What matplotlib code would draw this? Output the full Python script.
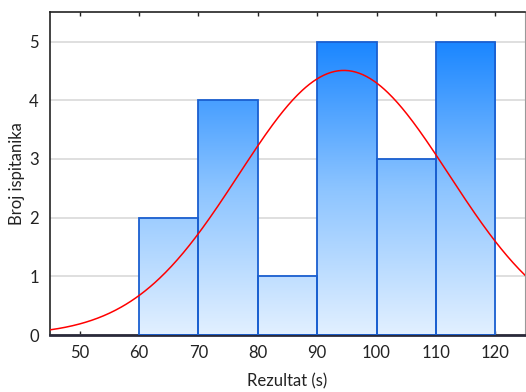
import numpy as np
import matplotlib
matplotlib.use('Agg')
import matplotlib.pyplot as plt
from matplotlib.colors import LinearSegmentedColormap

# histogram data
bin_edges = [60, 70, 80, 90, 100, 110, 120]
counts = [2, 4, 1, 5, 3, 5]
n_total = 20
mu = 94.5
sigma = 17.7
x_ticks = [50, 60, 70, 80, 90, 100, 110, 120]
y_ticks = [0, 1, 2, 3, 4, 5]

plt.rcParams['font.family'] = ['Lato', 'DejaVu Sans']

fig = plt.figure(figsize=(5.26, 3.92), dpi=100)
ax = fig.add_axes([0.095, 0.145, 0.903, 0.824])

ax.set_xlim(45, 125)
ax.set_ylim(0, 5.5)
ax.yaxis.grid(True, color='#d9d9d9', linewidth=1.2, zorder=0)
ax.set_axisbelow(True)

# bars with a vertical gradient (light at bottom, strong blue at top)
cmap = LinearSegmentedColormap.from_list('bluegrad', ['#e2f0ff', '#8cc4ff', '#1a86ff'])
grad = np.linspace(0, 1, 256).reshape(-1, 1)
widths = np.diff(bin_edges)
bars = ax.bar(bin_edges[:-1], counts, width=widths, align='edge',
              facecolor='none', edgecolor='#1a5fd0', linewidth=1.3, zorder=3)
for b in bars:
    im = ax.imshow(grad, cmap=cmap, origin='lower', aspect='auto',
                   extent=[45, 125, 0, 5], zorder=2)
    im.set_clip_path(b)

# fitted normal curve
binw = widths[0]
xs = np.linspace(45, 125, 400)
ys = n_total * binw / (sigma * np.sqrt(2 * np.pi)) * np.exp(-0.5 * ((xs - mu) / sigma) ** 2)
ax.plot(xs, ys, color='#ff0000', linewidth=1.1, zorder=4)

ax.set_xlim(45, 125)
ax.set_ylim(0, 5.5)
ax.set_xticks(x_ticks)
ax.set_yticks(y_ticks)
ax.tick_params(axis='both', labelsize=12, colors='#222222')
ax.tick_params(axis='x', top=True, bottom=True, direction='in', length=3, width=1,
               color='#222222', pad=7)
ax.tick_params(axis='y', right=True, left=False, direction='out', length=3, width=1,
               color='#222222', pad=5)

for s in ['left', 'top']:
    ax.spines[s].set_color('#222222')
    ax.spines[s].set_linewidth(1.2)
ax.spines['bottom'].set_color('#2a2a3a')
ax.spines['bottom'].set_linewidth(2)
ax.spines['right'].set_color('#999999')

ax.set_xlabel('Rezultat (s)', fontsize=12, color='#222222')
ax.set_ylabel('Broj ispitanika', fontsize=12, color='#222222')
ax.xaxis.set_label_coords(0.5, -0.118)
ax.yaxis.set_label_coords(-0.053, 0.5)

fig.savefig('out.png', dpi=100)
